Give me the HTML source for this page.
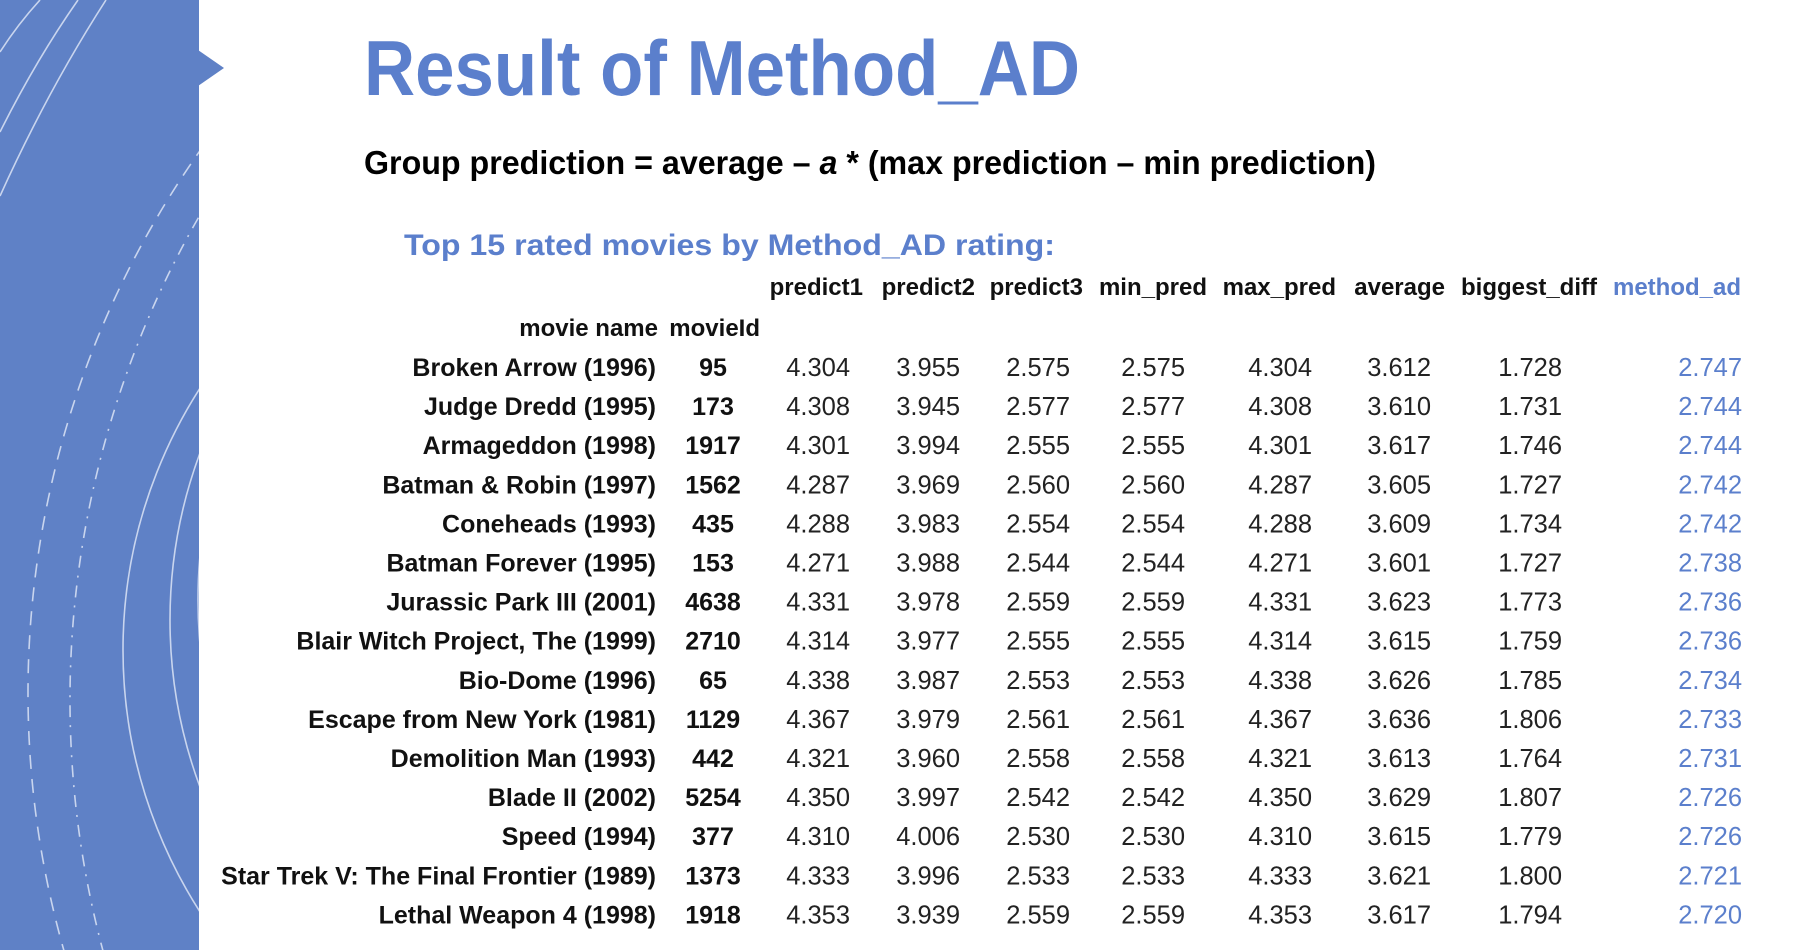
<!DOCTYPE html>
<html><head><meta charset="utf-8"><style>
html,body{margin:0;padding:0;background:#fff;overflow:hidden;width:1801px;height:950px;}
svg{display:block;font-family:"Liberation Sans",sans-serif;overflow:hidden;}
</style></head><body>
<svg id="s" width="1801" height="950" viewBox="0 0 1801 950">
<defs><clipPath id="pc"><rect x="0" y="0" width="199" height="950"/></clipPath></defs>
<g>
<rect x="0" y="0" width="199" height="950" fill="#5f81c6"/>
<polygon points="198,50 224,68 198,86" fill="#5f81c6"/>
<g clip-path="url(#pc)" fill="none" stroke="#c9d5ee" stroke-width="1.6">
<circle cx="969" cy="693" r="941" stroke-dasharray="14,10"/>
<circle cx="1040" cy="700" r="970" stroke-dasharray="12,8,2,8"/>
<circle cx="606" cy="650" r="483"/>
<circle cx="650" cy="620" r="480"/>
<circle cx="680" cy="600" r="482"/>
<path d="M0,52 Q18,24 40,0"/>
<path d="M0,132 Q36,60 78,0"/>
<path d="M0,196 Q48,90 106,0"/>
</g>
</g>
<text x="364" y="95" font-size="78" font-weight="bold" fill="#5b7fcc" textLength="716" lengthAdjust="spacingAndGlyphs">Result of Method_AD</text>
<text x="364" y="174" font-size="33" font-weight="bold" fill="#000" textLength="1012" lengthAdjust="spacingAndGlyphs">Group prediction = average – <tspan font-style="italic">a</tspan> * (max prediction – min prediction)</text>
<text x="404" y="255" font-size="30" font-weight="bold" fill="#5b7fcc" textLength="651" lengthAdjust="spacingAndGlyphs">Top 15 rated movies by Method_AD rating:</text>
<g id="tbl"></g>
</svg>
<script>
const names=["Broken Arrow (1996)","Judge Dredd (1995)","Armageddon (1998)","Batman & Robin (1997)","Coneheads (1993)","Batman Forever (1995)","Jurassic Park III (2001)","Blair Witch Project, The (1999)","Bio-Dome (1996)","Escape from New York (1981)","Demolition Man (1993)","Blade II (2002)","Speed (1994)","Star Trek V: The Final Frontier (1989)","Lethal Weapon 4 (1998)"];
const ids=[95,173,1917,1562,435,153,4638,2710,65,1129,442,5254,377,1373,1918];
const predict1=["4.304","4.308","4.301","4.287","4.288","4.271","4.331","4.314","4.338","4.367","4.321","4.350","4.310","4.333","4.353"];
const predict2=["3.955","3.945","3.994","3.969","3.983","3.988","3.978","3.977","3.987","3.979","3.960","3.997","4.006","3.996","3.939"];
const predict3=["2.575","2.577","2.555","2.560","2.554","2.544","2.559","2.555","2.553","2.561","2.558","2.542","2.530","2.533","2.559"];
const minPred=["2.575","2.577","2.555","2.560","2.554","2.544","2.559","2.555","2.553","2.561","2.558","2.542","2.530","2.533","2.559"];
const maxPred=["4.304","4.308","4.301","4.287","4.288","4.271","4.331","4.314","4.338","4.367","4.321","4.350","4.310","4.333","4.353"];
const average=["3.612","3.610","3.617","3.605","3.609","3.601","3.623","3.615","3.626","3.636","3.613","3.629","3.615","3.621","3.617"];
const biggestDiff=["1.728","1.731","1.746","1.727","1.734","1.727","1.773","1.759","1.785","1.806","1.764","1.807","1.779","1.800","1.794"];
const methodAd=["2.747","2.744","2.744","2.742","2.742","2.738","2.736","2.736","2.734","2.733","2.731","2.726","2.726","2.721","2.720"];
const headers=["predict1","predict2","predict3","min_pred","max_pred","average","biggest_diff","method_ad"];

const NS="http://www.w3.org/2000/svg";
const g=document.getElementById('tbl');
function t(x,y,s,anchor,weight,color,size,name){
  const e=document.createElementNS(NS,'text');
  e.setAttribute('x',x);e.setAttribute('y',y);
  e.setAttribute('font-size',size);
  e.setAttribute('text-anchor',anchor);
  e.setAttribute('font-weight',weight);
  e.setAttribute('fill',color);
  e.textContent=s;
  
  
  g.appendChild(e);return e;
}
const hdrX=[863,975,1083,1207,1336,1445,1597,1741];
headers.forEach((h,i)=>{
  t(hdrX[i],295,h,'end','bold',i===7?'#5b7fcc':'#111',24,'column-header');
});
t(658,336,'movie name','end','bold','#111',24,'index-header');
t(760,336,'movieId','end','bold','#111',24,'index-header');
const cols=[predict1,predict2,predict3,minPred,maxPred,average,biggestDiff,methodAd];
const colX=[850,960,1070,1185,1312,1431,1562,1742];
const rowY=i=>376+i*39.1;
names.forEach((n,i)=>{
  const y=rowY(i);
  t(656,y,n,'end','bold','#111',25,'movie-name');
  t(713,y,String(ids[i]),'middle','bold','#111',25,'movie-id');
  cols.forEach((c,j)=>{
    t(colX[j],y,c[i],'end','normal',j===7?'#5b7fcc':'#222',25.5,'table-cell');
  });
});
</script>
</body></html>
